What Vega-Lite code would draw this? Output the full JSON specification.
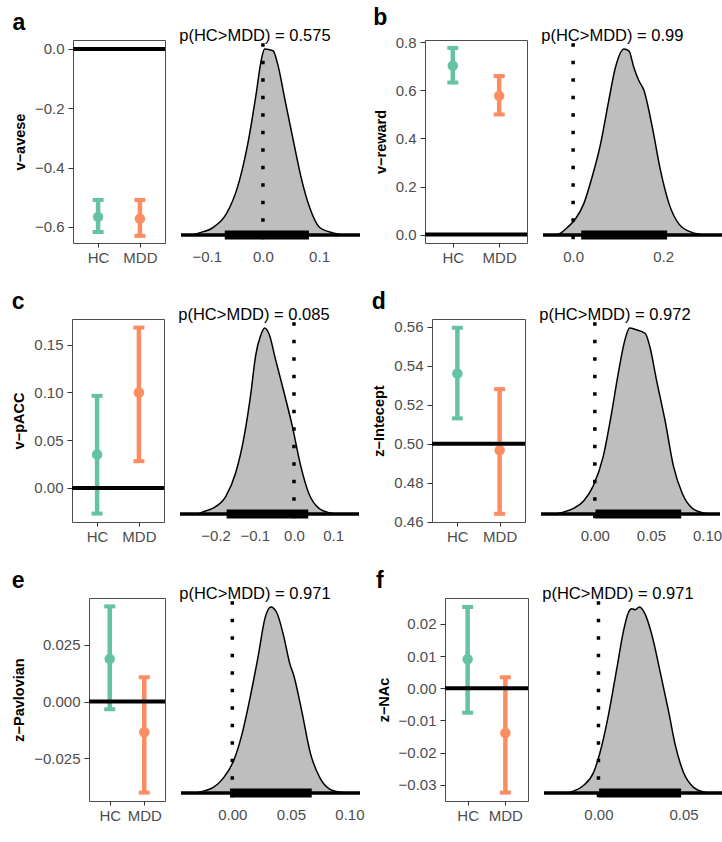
{
"$schema": "https://vega.github.io/schema/vega-lite/v6.json",
"background": "white",
"padding": {"left": 10, "top": 6, "right": 2, "bottom": 2},
"spacing": 24,
"config": {
  "font": "Liberation Sans",
  "view": {"stroke": null},
  "axis": {"grid": false, "domain": false, "labelFont": "Liberation Sans", "labelFontSize": 15, "labelColor": "#4d4d4d", "tickColor": "#333333", "tickWidth": 1, "tickSize": 5, "labelPadding": 4, "titleFont": "Liberation Sans", "titleFontSize": 14.5, "titleFontWeight": "bold", "titleColor": "black", "titlePadding": 7, "labelOverlap": false, "labelFlush": false},
  "title": {"font": "Liberation Sans", "color": "black", "anchor": "start"}
},
"vconcat": [
{"spacing": 0, "hconcat": [
  {"width": 1, "height": 1, "data": {"values": [{"s": 0}]}, "mark": {"type": "point", "opacity": 0, "size": 1}, "encoding": {}},
  {"spacing": 10, "hconcat": [
    {"spacing": 11, "hconcat": [
      {"width": 92, "height": 203,
       "title": {"text": "a", "fontSize": 23, "fontWeight": "bold", "frame": "bounds", "anchor": "start", "offset": 5},
       "view": {"stroke": "#4d4d4d", "strokeWidth": 1},
       "data": {"values": [{"group": "HC", "mean": -0.566, "lo": -0.617, "hi": -0.509}, {"group": "MDD", "mean": -0.572, "lo": -0.630, "hi": -0.509}]},
       "layer": [
        {"mark": {"type": "rule", "strokeWidth": 4.5, "opacity": 1}, "encoding": {"x": {"field": "group", "type": "nominal", "scale": {"type": "point", "padding": 0.6}, "axis": {"title": null, "labelAngle": 0, "tickSize": 4, "labelPadding": 3}}, "y": {"field": "lo", "type": "quantitative", "scale": {"domain": [-0.654, 0.03], "nice": false, "zero": false}, "axis": {"title": "v−avese", "values": [0, -0.2, -0.4, -0.6], "format": ".1f"}}, "y2": {"field": "hi"}, "color": {"field": "group", "type": "nominal", "scale": {"domain": ["HC", "MDD"], "range": ["#66c2a5", "#fc8d62"]}, "legend": null}}},
        {"mark": {"type": "tick", "size": 11, "thickness": 4, "opacity": 1}, "encoding": {"x": {"field": "group", "type": "nominal"}, "y": {"field": "lo", "type": "quantitative"}, "color": {"field": "group", "type": "nominal", "legend": null}}},
        {"mark": {"type": "tick", "size": 11, "thickness": 4, "opacity": 1}, "encoding": {"x": {"field": "group", "type": "nominal"}, "y": {"field": "hi", "type": "quantitative"}, "color": {"field": "group", "type": "nominal", "legend": null}}},
        {"mark": {"type": "point", "filled": true, "size": 110, "opacity": 1}, "encoding": {"x": {"field": "group", "type": "nominal"}, "y": {"field": "mean", "type": "quantitative"}, "color": {"field": "group", "type": "nominal", "legend": null}}},
        {"data": {"values": [{"ref": 0}]}, "mark": {"type": "rule", "strokeWidth": 4, "color": "black"}, "encoding": {"y": {"field": "ref", "type": "quantitative"}}}
       ]},
      {"width": 179, "height": 203,
       "title": {"text": "p(HC>MDD) = 0.575", "fontSize": 16.5, "fontWeight": "normal", "anchor": "start", "offset": -4},
       "layer": [
        {"data": {"values": [{"x": -0.125, "d": 0}, {"x": -0.115, "d": 0.01}, {"x": -0.089, "d": 0.04}, {"x": -0.065, "d": 0.115}, {"x": -0.045, "d": 0.26}, {"x": -0.027, "d": 0.49}, {"x": -0.012, "d": 0.76}, {"x": -0.003, "d": 0.94}, {"x": 0.003, "d": 1.0}, {"x": 0.018, "d": 0.99}, {"x": 0.027, "d": 0.91}, {"x": 0.039, "d": 0.73}, {"x": 0.054, "d": 0.51}, {"x": 0.068, "d": 0.31}, {"x": 0.083, "d": 0.15}, {"x": 0.101, "d": 0.04}, {"x": 0.119, "d": 0.016}, {"x": 0.131, "d": 0.007}, {"x": 0.14, "d": 0}]},
         "mark": {"type": "area", "fill": "#bebebe", "stroke": "black", "strokeWidth": 1.5, "interpolate": "monotone", "opacity": 1},
         "encoding": {"x": {"field": "x", "type": "quantitative", "scale": {"domain": [-0.146, 0.173], "nice": false, "zero": false}, "axis": {"title": null, "ticks": false, "labelPadding": 6, "values": [-0.1, 0, 0.1], "format": ".1f"}}, "y": {"field": "d", "type": "quantitative", "scale": {"domain": [-0.043, 1.048], "nice": false, "zero": false}, "axis": null}, "y2": {"datum": 0}}},
        {"data": {"values": [{"lev": 0}]}, "mark": {"type": "rule", "strokeWidth": 3.5, "color": "black"}, "encoding": {"y": {"field": "lev", "type": "quantitative"}}},
        {"data": {"values": [{"lo": -0.068, "hi": 0.082, "lev": 0}]}, "mark": {"type": "rule", "strokeWidth": 9, "color": "black"}, "encoding": {"x": {"field": "lo", "type": "quantitative"}, "x2": {"field": "hi"}, "y": {"field": "lev", "type": "quantitative"}}},
        {"data": {"values": [{"x0": 0, "top": 1.03, "bot": -0.04}]}, "mark": {"type": "rule", "strokeWidth": 3.5, "strokeDash": [3.5, 14], "color": "black"}, "encoding": {"x": {"field": "x0", "type": "quantitative"}, "y": {"field": "top", "type": "quantitative"}, "y2": {"field": "bot"}}}
       ]}
    ]},
    {"spacing": 11, "hconcat": [
      {"width": 102, "height": 203,
       "title": {"text": "b", "fontSize": 23, "fontWeight": "bold", "frame": "bounds", "anchor": "start", "offset": 5},
       "view": {"stroke": "#4d4d4d", "strokeWidth": 1},
       "data": {"values": [{"group": "HC", "mean": 0.7025, "lo": 0.633, "hi": 0.777}, {"group": "MDD", "mean": 0.5775, "lo": 0.5, "hi": 0.66}]},
       "layer": [
        {"mark": {"type": "rule", "strokeWidth": 4.5, "opacity": 1}, "encoding": {"x": {"field": "group", "type": "nominal", "scale": {"type": "point", "padding": 0.6}, "axis": {"title": null, "labelAngle": 0, "tickSize": 4, "labelPadding": 3}}, "y": {"field": "lo", "type": "quantitative", "scale": {"domain": [-0.035, 0.81], "nice": false, "zero": false}, "axis": {"title": "v−reward", "values": [0, 0.2, 0.4, 0.6, 0.8], "format": ".1f"}}, "y2": {"field": "hi"}, "color": {"field": "group", "type": "nominal", "scale": {"domain": ["HC", "MDD"], "range": ["#66c2a5", "#fc8d62"]}, "legend": null}}},
        {"mark": {"type": "tick", "size": 11, "thickness": 4, "opacity": 1}, "encoding": {"x": {"field": "group", "type": "nominal"}, "y": {"field": "lo", "type": "quantitative"}, "color": {"field": "group", "type": "nominal", "legend": null}}},
        {"mark": {"type": "tick", "size": 11, "thickness": 4, "opacity": 1}, "encoding": {"x": {"field": "group", "type": "nominal"}, "y": {"field": "hi", "type": "quantitative"}, "color": {"field": "group", "type": "nominal", "legend": null}}},
        {"mark": {"type": "point", "filled": true, "size": 110, "opacity": 1}, "encoding": {"x": {"field": "group", "type": "nominal"}, "y": {"field": "mean", "type": "quantitative"}, "color": {"field": "group", "type": "nominal", "legend": null}}},
        {"data": {"values": [{"ref": 0}]}, "mark": {"type": "rule", "strokeWidth": 4, "color": "black"}, "encoding": {"y": {"field": "ref", "type": "quantitative"}}}
       ]},
      {"width": 179, "height": 203,
       "title": {"text": "p(HC>MDD) = 0.99", "fontSize": 16.5, "fontWeight": "normal", "anchor": "start", "offset": -4},
       "layer": [
        {"data": {"values": [{"x": -0.04, "d": 0}, {"x": -0.032, "d": 0.005}, {"x": -0.013, "d": 0.04}, {"x": 0.005, "d": 0.086}, {"x": 0.024, "d": 0.17}, {"x": 0.042, "d": 0.31}, {"x": 0.061, "d": 0.49}, {"x": 0.079, "d": 0.72}, {"x": 0.094, "d": 0.9}, {"x": 0.113, "d": 1.0}, {"x": 0.124, "d": 0.99}, {"x": 0.135, "d": 0.9}, {"x": 0.146, "d": 0.83}, {"x": 0.157, "d": 0.78}, {"x": 0.176, "d": 0.58}, {"x": 0.194, "d": 0.35}, {"x": 0.213, "d": 0.17}, {"x": 0.235, "d": 0.06}, {"x": 0.264, "d": 0.014}, {"x": 0.279, "d": 0.005}, {"x": 0.29, "d": 0}]},
         "mark": {"type": "area", "fill": "#bebebe", "stroke": "black", "strokeWidth": 1.5, "interpolate": "monotone", "opacity": 1},
         "encoding": {"x": {"field": "x", "type": "quantitative", "scale": {"domain": [-0.067, 0.331], "nice": false, "zero": false}, "axis": {"title": null, "ticks": false, "labelPadding": 6, "values": [0, 0.2], "format": ".1f"}}, "y": {"field": "d", "type": "quantitative", "scale": {"domain": [-0.043, 1.048], "nice": false, "zero": false}, "axis": null}, "y2": {"datum": 0}}},
        {"data": {"values": [{"lev": 0}]}, "mark": {"type": "rule", "strokeWidth": 3.5, "color": "black"}, "encoding": {"y": {"field": "lev", "type": "quantitative"}}},
        {"data": {"values": [{"lo": 0.018, "hi": 0.209, "lev": 0}]}, "mark": {"type": "rule", "strokeWidth": 9, "color": "black"}, "encoding": {"x": {"field": "lo", "type": "quantitative"}, "x2": {"field": "hi"}, "y": {"field": "lev", "type": "quantitative"}}},
        {"data": {"values": [{"x0": 0, "top": 1.03, "bot": -0.04}]}, "mark": {"type": "rule", "strokeWidth": 3.5, "strokeDash": [3.5, 14], "color": "black"}, "encoding": {"x": {"field": "x0", "type": "quantitative"}, "y": {"field": "top", "type": "quantitative"}, "y2": {"field": "bot"}}}
       ]}
    ]}
  ]}
]},
{"spacing": 0, "hconcat": [
  {"width": 1, "height": 1, "data": {"values": [{"s": 0}]}, "mark": {"type": "point", "opacity": 0, "size": 1}, "encoding": {}},
  {"spacing": 10, "hconcat": [
    {"spacing": 11, "hconcat": [
      {"width": 92, "height": 203,
       "title": {"text": "c", "fontSize": 23, "fontWeight": "bold", "frame": "bounds", "anchor": "start", "offset": 5},
       "view": {"stroke": "#4d4d4d", "strokeWidth": 1},
       "data": {"values": [{"group": "HC", "mean": 0.035, "lo": -0.0269, "hi": 0.0965}, {"group": "MDD", "mean": 0.100, "lo": 0.028, "hi": 0.168}]},
       "layer": [
        {"mark": {"type": "rule", "strokeWidth": 4.5, "opacity": 1}, "encoding": {"x": {"field": "group", "type": "nominal", "scale": {"type": "point", "padding": 0.6}, "axis": {"title": null, "labelAngle": 0, "tickSize": 4, "labelPadding": 3}}, "y": {"field": "lo", "type": "quantitative", "scale": {"domain": [-0.0357, 0.177], "nice": false, "zero": false}, "axis": {"title": "v−pACC", "values": [0, 0.05, 0.1, 0.15], "format": ".2f"}}, "y2": {"field": "hi"}, "color": {"field": "group", "type": "nominal", "scale": {"domain": ["HC", "MDD"], "range": ["#66c2a5", "#fc8d62"]}, "legend": null}}},
        {"mark": {"type": "tick", "size": 11, "thickness": 4, "opacity": 1}, "encoding": {"x": {"field": "group", "type": "nominal"}, "y": {"field": "lo", "type": "quantitative"}, "color": {"field": "group", "type": "nominal", "legend": null}}},
        {"mark": {"type": "tick", "size": 11, "thickness": 4, "opacity": 1}, "encoding": {"x": {"field": "group", "type": "nominal"}, "y": {"field": "hi", "type": "quantitative"}, "color": {"field": "group", "type": "nominal", "legend": null}}},
        {"mark": {"type": "point", "filled": true, "size": 110, "opacity": 1}, "encoding": {"x": {"field": "group", "type": "nominal"}, "y": {"field": "mean", "type": "quantitative"}, "color": {"field": "group", "type": "nominal", "legend": null}}},
        {"data": {"values": [{"ref": 0}]}, "mark": {"type": "rule", "strokeWidth": 4, "color": "black"}, "encoding": {"y": {"field": "ref", "type": "quantitative"}}}
       ]},
      {"width": 179, "height": 203,
       "title": {"text": "p(HC>MDD) = 0.085", "fontSize": 16.5, "fontWeight": "normal", "anchor": "start", "offset": -4},
       "layer": [
        {"data": {"values": [{"x": -0.245, "d": 0}, {"x": -0.234, "d": 0.01}, {"x": -0.208, "d": 0.03}, {"x": -0.174, "d": 0.095}, {"x": -0.149, "d": 0.22}, {"x": -0.127, "d": 0.42}, {"x": -0.11, "d": 0.65}, {"x": -0.098, "d": 0.85}, {"x": -0.085, "d": 0.96}, {"x": -0.075, "d": 1.0}, {"x": -0.064, "d": 0.97}, {"x": -0.047, "d": 0.83}, {"x": -0.025, "d": 0.65}, {"x": -0.004, "d": 0.47}, {"x": 0.017, "d": 0.26}, {"x": 0.038, "d": 0.11}, {"x": 0.064, "d": 0.03}, {"x": 0.093, "d": 0.005}, {"x": 0.105, "d": 0}]},
         "mark": {"type": "area", "fill": "#bebebe", "stroke": "black", "strokeWidth": 1.5, "interpolate": "monotone", "opacity": 1},
         "encoding": {"x": {"field": "x", "type": "quantitative", "scale": {"domain": [-0.291, 0.166], "nice": false, "zero": false}, "axis": {"title": null, "ticks": false, "labelPadding": 6, "values": [-0.2, -0.1, 0, 0.1], "format": ".1f"}}, "y": {"field": "d", "type": "quantitative", "scale": {"domain": [-0.043, 1.048], "nice": false, "zero": false}, "axis": null}, "y2": {"datum": 0}}},
        {"data": {"values": [{"lev": 0}]}, "mark": {"type": "rule", "strokeWidth": 3.5, "color": "black"}, "encoding": {"y": {"field": "lev", "type": "quantitative"}}},
        {"data": {"values": [{"lo": -0.172, "hi": 0.0365, "lev": 0}]}, "mark": {"type": "rule", "strokeWidth": 9, "color": "black"}, "encoding": {"x": {"field": "lo", "type": "quantitative"}, "x2": {"field": "hi"}, "y": {"field": "lev", "type": "quantitative"}}},
        {"data": {"values": [{"x0": 0, "top": 1.03, "bot": -0.04}]}, "mark": {"type": "rule", "strokeWidth": 3.5, "strokeDash": [3.5, 14], "color": "black"}, "encoding": {"x": {"field": "x0", "type": "quantitative"}, "y": {"field": "top", "type": "quantitative"}, "y2": {"field": "bot"}}}
       ]}
    ]},
    {"spacing": 11, "hconcat": [
      {"width": 93, "height": 203,
       "title": {"text": "d", "fontSize": 23, "fontWeight": "bold", "frame": "bounds", "anchor": "start", "offset": 5},
       "view": {"stroke": "#4d4d4d", "strokeWidth": 1},
       "data": {"values": [{"group": "HC", "mean": 0.536, "lo": 0.513, "hi": 0.5595}, {"group": "MDD", "mean": 0.4966, "lo": 0.464, "hi": 0.528}]},
       "layer": [
        {"mark": {"type": "rule", "strokeWidth": 4.5, "opacity": 1}, "encoding": {"x": {"field": "group", "type": "nominal", "scale": {"type": "point", "padding": 0.6}, "axis": {"title": null, "labelAngle": 0, "tickSize": 4, "labelPadding": 3}}, "y": {"field": "lo", "type": "quantitative", "scale": {"domain": [0.4598, 0.564], "nice": false, "zero": false}, "axis": {"title": "z−Intecept", "values": [0.46, 0.48, 0.5, 0.52, 0.54, 0.56], "format": ".2f"}}, "y2": {"field": "hi"}, "color": {"field": "group", "type": "nominal", "scale": {"domain": ["HC", "MDD"], "range": ["#66c2a5", "#fc8d62"]}, "legend": null}}},
        {"mark": {"type": "tick", "size": 11, "thickness": 4, "opacity": 1}, "encoding": {"x": {"field": "group", "type": "nominal"}, "y": {"field": "lo", "type": "quantitative"}, "color": {"field": "group", "type": "nominal", "legend": null}}},
        {"mark": {"type": "tick", "size": 11, "thickness": 4, "opacity": 1}, "encoding": {"x": {"field": "group", "type": "nominal"}, "y": {"field": "hi", "type": "quantitative"}, "color": {"field": "group", "type": "nominal", "legend": null}}},
        {"mark": {"type": "point", "filled": true, "size": 110, "opacity": 1}, "encoding": {"x": {"field": "group", "type": "nominal"}, "y": {"field": "mean", "type": "quantitative"}, "color": {"field": "group", "type": "nominal", "legend": null}}},
        {"data": {"values": [{"ref": 0.5}]}, "mark": {"type": "rule", "strokeWidth": 4, "color": "black"}, "encoding": {"y": {"field": "ref", "type": "quantitative"}}}
       ]},
      {"width": 179, "height": 203,
       "title": {"text": "p(HC>MDD) = 0.972", "fontSize": 16.5, "fontWeight": "normal", "anchor": "start", "offset": -4},
       "layer": [
        {"data": {"values": [{"x": -0.035, "d": 0}, {"x": -0.028, "d": 0.01}, {"x": -0.019, "d": 0.03}, {"x": -0.01, "d": 0.07}, {"x": -0.0015, "d": 0.15}, {"x": 0.0075, "d": 0.31}, {"x": 0.015, "d": 0.545}, {"x": 0.021, "d": 0.76}, {"x": 0.027, "d": 0.94}, {"x": 0.031, "d": 1.0}, {"x": 0.037, "d": 0.99}, {"x": 0.045, "d": 0.97}, {"x": 0.049, "d": 0.9}, {"x": 0.055, "d": 0.72}, {"x": 0.063, "d": 0.49}, {"x": 0.07, "d": 0.26}, {"x": 0.078, "d": 0.11}, {"x": 0.087, "d": 0.03}, {"x": 0.097, "d": 0.005}, {"x": 0.102, "d": 0}]},
         "mark": {"type": "area", "fill": "#bebebe", "stroke": "black", "strokeWidth": 1.5, "interpolate": "monotone", "opacity": 1},
         "encoding": {"x": {"field": "x", "type": "quantitative", "scale": {"domain": [-0.048, 0.1116], "nice": false, "zero": false}, "axis": {"title": null, "ticks": false, "labelPadding": 6, "values": [0, 0.05, 0.1], "format": ".2f"}}, "y": {"field": "d", "type": "quantitative", "scale": {"domain": [-0.043, 1.048], "nice": false, "zero": false}, "axis": null}, "y2": {"datum": 0}}},
        {"data": {"values": [{"lev": 0}]}, "mark": {"type": "rule", "strokeWidth": 3.5, "color": "black"}, "encoding": {"y": {"field": "lev", "type": "quantitative"}}},
        {"data": {"values": [{"lo": 0.0006, "hi": 0.077, "lev": 0}]}, "mark": {"type": "rule", "strokeWidth": 9, "color": "black"}, "encoding": {"x": {"field": "lo", "type": "quantitative"}, "x2": {"field": "hi"}, "y": {"field": "lev", "type": "quantitative"}}},
        {"data": {"values": [{"x0": 0, "top": 1.03, "bot": -0.04}]}, "mark": {"type": "rule", "strokeWidth": 3.5, "strokeDash": [3.5, 14], "color": "black"}, "encoding": {"x": {"field": "x0", "type": "quantitative"}, "y": {"field": "top", "type": "quantitative"}, "y2": {"field": "bot"}}}
       ]}
    ]}
  ]}
]},
{"spacing": 0, "hconcat": [
  {"width": 1, "height": 1, "data": {"values": [{"s": 0}]}, "mark": {"type": "point", "opacity": 0, "size": 1}, "encoding": {}},
  {"spacing": 10, "hconcat": [
    {"spacing": 11, "hconcat": [
      {"width": 76, "height": 203,
       "title": {"text": "e", "fontSize": 23, "fontWeight": "bold", "frame": "bounds", "anchor": "start", "offset": 5},
       "view": {"stroke": "#4d4d4d", "strokeWidth": 1},
       "data": {"values": [{"group": "HC", "mean": 0.0187, "lo": -0.0034, "hi": 0.0419}, {"group": "MDD", "mean": -0.0135, "lo": -0.0401, "hi": 0.0107}]},
       "layer": [
        {"mark": {"type": "rule", "strokeWidth": 4.5, "opacity": 1}, "encoding": {"x": {"field": "group", "type": "nominal", "scale": {"type": "point", "padding": 0.6}, "axis": {"title": null, "labelAngle": 0, "tickSize": 4, "labelPadding": 3}}, "y": {"field": "lo", "type": "quantitative", "scale": {"domain": [-0.0438, 0.0456], "nice": false, "zero": false}, "axis": {"title": "z−Pavlovian", "values": [-0.025, 0, 0.025], "format": ".3f"}}, "y2": {"field": "hi"}, "color": {"field": "group", "type": "nominal", "scale": {"domain": ["HC", "MDD"], "range": ["#66c2a5", "#fc8d62"]}, "legend": null}}},
        {"mark": {"type": "tick", "size": 11, "thickness": 4, "opacity": 1}, "encoding": {"x": {"field": "group", "type": "nominal"}, "y": {"field": "lo", "type": "quantitative"}, "color": {"field": "group", "type": "nominal", "legend": null}}},
        {"mark": {"type": "tick", "size": 11, "thickness": 4, "opacity": 1}, "encoding": {"x": {"field": "group", "type": "nominal"}, "y": {"field": "hi", "type": "quantitative"}, "color": {"field": "group", "type": "nominal", "legend": null}}},
        {"mark": {"type": "point", "filled": true, "size": 110, "opacity": 1}, "encoding": {"x": {"field": "group", "type": "nominal"}, "y": {"field": "mean", "type": "quantitative"}, "color": {"field": "group", "type": "nominal", "legend": null}}},
        {"data": {"values": [{"ref": 0}]}, "mark": {"type": "rule", "strokeWidth": 4, "color": "black"}, "encoding": {"y": {"field": "ref", "type": "quantitative"}}}
       ]},
      {"width": 179, "height": 203,
       "title": {"text": "p(HC>MDD) = 0.971", "fontSize": 16.5, "fontWeight": "normal", "anchor": "start", "offset": -4},
       "layer": [
        {"data": {"values": [{"x": -0.031, "d": 0}, {"x": -0.0248, "d": 0.01}, {"x": -0.0162, "d": 0.03}, {"x": -0.0077, "d": 0.08}, {"x": 0.0009, "d": 0.17}, {"x": 0.008, "d": 0.31}, {"x": 0.0151, "d": 0.51}, {"x": 0.0222, "d": 0.74}, {"x": 0.0279, "d": 0.94}, {"x": 0.0328, "d": 1.0}, {"x": 0.0379, "d": 0.97}, {"x": 0.0436, "d": 0.85}, {"x": 0.0493, "d": 0.69}, {"x": 0.0521, "d": 0.64}, {"x": 0.0593, "d": 0.44}, {"x": 0.0664, "d": 0.22}, {"x": 0.0749, "d": 0.08}, {"x": 0.0849, "d": 0.015}, {"x": 0.092, "d": 0.005}, {"x": 0.096, "d": 0}]},
         "mark": {"type": "area", "fill": "#bebebe", "stroke": "black", "strokeWidth": 1.5, "interpolate": "monotone", "opacity": 1},
         "encoding": {"x": {"field": "x", "type": "quantitative", "scale": {"domain": [-0.0438, 0.109], "nice": false, "zero": false}, "axis": {"title": null, "ticks": false, "labelPadding": 6, "values": [0, 0.05, 0.1], "format": ".2f"}}, "y": {"field": "d", "type": "quantitative", "scale": {"domain": [-0.043, 1.048], "nice": false, "zero": false}, "axis": null}, "y2": {"datum": 0}}},
        {"data": {"values": [{"lev": 0}]}, "mark": {"type": "rule", "strokeWidth": 3.5, "color": "black"}, "encoding": {"y": {"field": "lev", "type": "quantitative"}}},
        {"data": {"values": [{"lo": -0.002, "hi": 0.0678, "lev": 0}]}, "mark": {"type": "rule", "strokeWidth": 9, "color": "black"}, "encoding": {"x": {"field": "lo", "type": "quantitative"}, "x2": {"field": "hi"}, "y": {"field": "lev", "type": "quantitative"}}},
        {"data": {"values": [{"x0": 0, "top": 1.03, "bot": -0.04}]}, "mark": {"type": "rule", "strokeWidth": 3.5, "strokeDash": [3.5, 14], "color": "black"}, "encoding": {"x": {"field": "x0", "type": "quantitative"}, "y": {"field": "top", "type": "quantitative"}, "y2": {"field": "bot"}}}
       ]}
    ]},
    {"spacing": 11, "hconcat": [
      {"width": 83, "height": 203,
       "title": {"text": "f", "fontSize": 23, "fontWeight": "bold", "frame": "bounds", "anchor": "start", "offset": 5},
       "view": {"stroke": "#4d4d4d", "strokeWidth": 1},
       "data": {"values": [{"group": "HC", "mean": 0.009, "lo": -0.0076, "hi": 0.0252}, {"group": "MDD", "mean": -0.0139, "lo": -0.0324, "hi": 0.0034}]},
       "layer": [
        {"mark": {"type": "rule", "strokeWidth": 4.5, "opacity": 1}, "encoding": {"x": {"field": "group", "type": "nominal", "scale": {"type": "point", "padding": 0.6}, "axis": {"title": null, "labelAngle": 0, "tickSize": 4, "labelPadding": 3}}, "y": {"field": "lo", "type": "quantitative", "scale": {"domain": [-0.035, 0.028], "nice": false, "zero": false}, "axis": {"title": "z−NAc", "values": [-0.03, -0.02, -0.01, 0, 0.01, 0.02], "format": ".2f"}}, "y2": {"field": "hi"}, "color": {"field": "group", "type": "nominal", "scale": {"domain": ["HC", "MDD"], "range": ["#66c2a5", "#fc8d62"]}, "legend": null}}},
        {"mark": {"type": "tick", "size": 11, "thickness": 4, "opacity": 1}, "encoding": {"x": {"field": "group", "type": "nominal"}, "y": {"field": "lo", "type": "quantitative"}, "color": {"field": "group", "type": "nominal", "legend": null}}},
        {"mark": {"type": "tick", "size": 11, "thickness": 4, "opacity": 1}, "encoding": {"x": {"field": "group", "type": "nominal"}, "y": {"field": "hi", "type": "quantitative"}, "color": {"field": "group", "type": "nominal", "legend": null}}},
        {"mark": {"type": "point", "filled": true, "size": 110, "opacity": 1}, "encoding": {"x": {"field": "group", "type": "nominal"}, "y": {"field": "mean", "type": "quantitative"}, "color": {"field": "group", "type": "nominal", "legend": null}}},
        {"data": {"values": [{"ref": 0}]}, "mark": {"type": "rule", "strokeWidth": 4, "color": "black"}, "encoding": {"y": {"field": "ref", "type": "quantitative"}}}
       ]},
      {"width": 179, "height": 203,
       "title": {"text": "p(HC>MDD) = 0.971", "fontSize": 16.5, "fontWeight": "normal", "anchor": "start", "offset": -4},
       "layer": [
        {"data": {"values": [{"x": -0.018, "d": 0}, {"x": -0.0147, "d": 0.01}, {"x": -0.0088, "d": 0.04}, {"x": -0.0029, "d": 0.11}, {"x": 0.001, "d": 0.22}, {"x": 0.0059, "d": 0.42}, {"x": 0.0108, "d": 0.67}, {"x": 0.0147, "d": 0.87}, {"x": 0.0176, "d": 0.97}, {"x": 0.0196, "d": 0.99}, {"x": 0.0216, "d": 0.985}, {"x": 0.0241, "d": 1.0}, {"x": 0.0275, "d": 0.96}, {"x": 0.0314, "d": 0.85}, {"x": 0.0363, "d": 0.65}, {"x": 0.0412, "d": 0.44}, {"x": 0.0451, "d": 0.26}, {"x": 0.05, "d": 0.11}, {"x": 0.0559, "d": 0.03}, {"x": 0.0618, "d": 0.005}, {"x": 0.065, "d": 0}]},
         "mark": {"type": "area", "fill": "#bebebe", "stroke": "black", "strokeWidth": 1.5, "interpolate": "monotone", "opacity": 1},
         "encoding": {"x": {"field": "x", "type": "quantitative", "scale": {"domain": [-0.032, 0.0732], "nice": false, "zero": false}, "axis": {"title": null, "ticks": false, "labelPadding": 6, "values": [0, 0.05], "format": ".2f"}}, "y": {"field": "d", "type": "quantitative", "scale": {"domain": [-0.043, 1.048], "nice": false, "zero": false}, "axis": null}, "y2": {"datum": 0}}},
        {"data": {"values": [{"lev": 0}]}, "mark": {"type": "rule", "strokeWidth": 3.5, "color": "black"}, "encoding": {"y": {"field": "lev", "type": "quantitative"}}},
        {"data": {"values": [{"lo": 0.0004, "hi": 0.0486, "lev": 0}]}, "mark": {"type": "rule", "strokeWidth": 9, "color": "black"}, "encoding": {"x": {"field": "lo", "type": "quantitative"}, "x2": {"field": "hi"}, "y": {"field": "lev", "type": "quantitative"}}},
        {"data": {"values": [{"x0": 0, "top": 1.03, "bot": -0.04}]}, "mark": {"type": "rule", "strokeWidth": 3.5, "strokeDash": [3.5, 14], "color": "black"}, "encoding": {"x": {"field": "x0", "type": "quantitative"}, "y": {"field": "top", "type": "quantitative"}, "y2": {"field": "bot"}}}
       ]}
    ]}
  ]}
]}
]
}
